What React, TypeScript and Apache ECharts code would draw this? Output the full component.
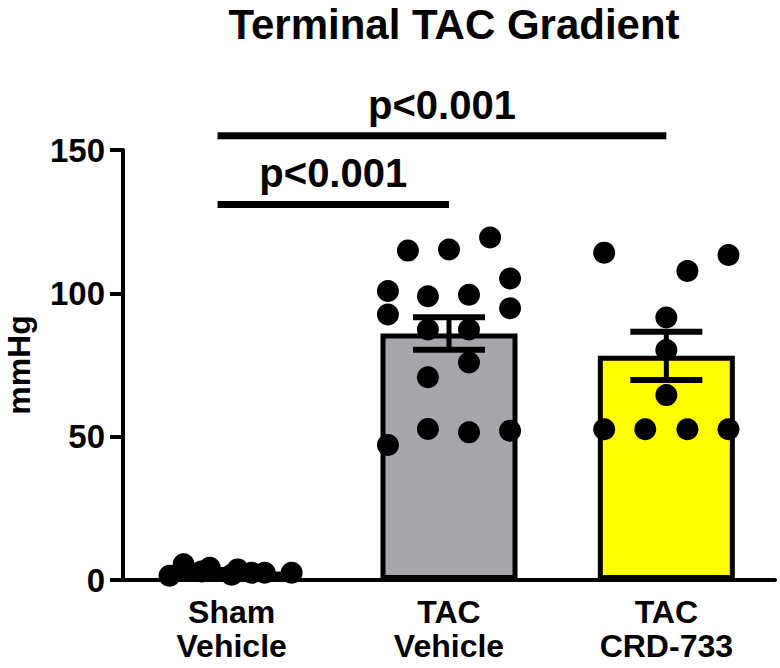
import React, { useEffect, useRef } from "react";
import * as echarts from "echarts";

const categories = ["Sham\nVehicle", "TAC\nVehicle", "TAC\nCRD-733"];
const barMeans = [3.0, 86.0, 78.2];
const barSems = [0.5, 5.7, 8.4];
const barColors = ["#ffffff", "#a6a6ab", "#ffff00"];

const shamValues = [1.5, 5.5, 3.0, 4.3, 1.8, 3.7, 2.5, 2.5, 2.5];
const shamOffsets = [-0.286, -0.221, -0.138, -0.101, 0, 0.028, 0.092, 0.152, 0.276];

const tacVehicleValues = [100.8, 92.6, 47.1, 114.9, 99, 87.4, 70.7, 52.7, 115.3, 99.5, 87.4, 75.9, 51.5, 119.5, 105.2, 94.8, 52.1];
const tacVehicleOffsets = [-0.281, -0.281, -0.281, -0.189, -0.097, -0.097, -0.097, -0.097, 0, 0.092, 0.092, 0.092, 0.092, 0.189, 0.281, 0.281, 0.281];

const crdValues = [114.2, 52.6, 52.6, 91.6, 80.2, 64.5, 107.8, 52.6, 113.4, 52.6];
const crdOffsets = [-0.286, -0.286, -0.097, 0, 0, 0, 0.097, 0.097, 0.286, 0.286];

const sigStart = [-0.065, -0.065];
const sigEnd = [2.0, 1.0];
const sigLevel = [155, 131];
const sigLabels = ["p<0.001", "p<0.001"];

const yTicks = { min: 0, max: 150, interval: 50 };

const FONT = '"Liberation Sans", Arial, Helvetica, sans-serif';

export default function App() {
  const ref = useRef<HTMLDivElement>(null);
  useEffect(() => {
    if (!ref.current) return;
    const chart = echarts.init(ref.current, null, { renderer: "svg" });
    const dots: number[][] = [];
    [shamValues, tacVehicleValues, crdValues].forEach((vals, gi) => {
      const offs = [shamOffsets, tacVehicleOffsets, crdOffsets][gi];
      vals.forEach((v, i) => dots.push([gi + offs[i], v]));
    });
    const errData = barMeans.map((m, i) => [i, m - barSems[i], m + barSems[i]]);
    const sigData = sigStart.map((s, i) => [s, sigEnd[i], sigLevel[i]]);

    chart.setOption({
      animation: false,
      backgroundColor: "#ffffff",
      title: {
        text: "Terminal TAC Gradient",
        left: 449,
        top: -2,
        textAlign: "center",
        textStyle: { fontFamily: FONT, fontWeight: "bold", fontSize: 42, color: "#000" },
      },
      grid: { left: 123, right: 5, top: 150, bottom: 88, containLabel: false, outerBoundsMode: "none" },
      xAxis: [
        {
          type: "category",
          data: categories,
          boundaryGap: true,
          axisLine: { lineStyle: { color: "#000", width: 4 } },
          axisTick: { alignWithLabel: true, length: 12, lineStyle: { color: "#000", width: 4 } },
          axisLabel: {
            margin: 15,
            fontFamily: FONT,
            fontWeight: "bold",
            fontSize: 32,
            lineHeight: 34,
            color: "#000",
          },
          splitLine: { show: false },
        },
        { type: "value", min: -0.5, max: 2.5, show: false },
      ],
      yAxis: {
        type: "value",
        min: yTicks.min,
        max: yTicks.max,
        interval: yTicks.interval,
        name: "mmHg",
        nameLocation: "middle",
        nameGap: 88,
        nameRotate: 90,
        nameTextStyle: { fontFamily: FONT, fontWeight: "bold", fontSize: 32, color: "#000" },
        axisLine: { show: true, onZero: false, lineStyle: { color: "#000", width: 4 } },
        axisTick: { show: true, length: 13, lineStyle: { color: "#000", width: 4 } },
        axisLabel: { margin: 18, fontFamily: FONT, fontWeight: "bold", fontSize: 33, color: "#000" },
        splitLine: { show: false },
      },
      series: [
        {
          type: "bar",
          xAxisIndex: 0,
          barWidth: 137,
          data: barMeans.map((m, i) => ({
            value: m,
            itemStyle: { color: barColors[i], borderColor: "#000", borderWidth: 5 },
          })),
          z: 2,
        },
        {
          type: "scatter",
          xAxisIndex: 1,
          data: dots,
          symbol: "circle",
          symbolSize: 22,
          itemStyle: { color: "#000", opacity: 1 },
          clip: false,
          z: 4,
        },
        {
          type: "custom",
          xAxisIndex: 1,
          data: errData,
          clip: false,
          z: 5,
          renderItem: (params: any, api: any) => {
            const x = api.value(0);
            const lo = api.coord([x, api.value(1)]);
            const hi = api.coord([x, api.value(2)]);
            const hw = 36;
            const st = { stroke: "#000", lineWidth: 6 };
            return {
              type: "group",
              children: [
                { type: "line", shape: { x1: lo[0], y1: lo[1], x2: hi[0], y2: hi[1] }, style: { stroke: "#000", lineWidth: 5 } },
                { type: "line", shape: { x1: hi[0] - hw, y1: hi[1], x2: hi[0] + hw, y2: hi[1] }, style: st },
                { type: "line", shape: { x1: lo[0] - hw, y1: lo[1], x2: lo[0] + hw, y2: lo[1] }, style: st },
              ],
            };
          },
        },
        {
          type: "custom",
          xAxisIndex: 1,
          data: sigData,
          clip: false,
          z: 5,
          renderItem: (params: any, api: any) => {
            const a = api.coord([api.value(0), api.value(2)]);
            const b = api.coord([api.value(1), api.value(2)]);
            return {
              type: "group",
              children: [
                { type: "line", shape: { x1: a[0], y1: a[1], x2: b[0], y2: b[1] }, style: { stroke: "#000", lineWidth: 7 } },
                {
                  type: "text",
                  x: (a[0] + b[0]) / 2,
                  y: a[1] - 31,
                  style: {
                    text: sigLabels[params.dataIndex],
                    font: `bold 40px ${FONT}`,
                    fill: "#000",
                    align: "center",
                    verticalAlign: "middle",
                  },
                },
              ],
            };
          },
        },
      ],
    });
    return () => chart.dispose();
  }, []);
  return (
    <div
      ref={ref}
      style={{ position: "fixed", left: 0, top: 0, width: 780, height: 668, background: "#fff" }}
    />
  );
}
